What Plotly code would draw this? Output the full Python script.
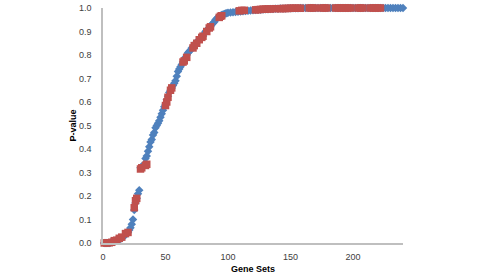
import plotly.graph_objects as go

# Blue diamonds series (gene set index, p-value)
blue_x = list(range(1, 101)) + list(range(102, 241, 2))
blue_y = [
    0.0, 0.0, 0.0, 0.0, 0.0, 0.002, 0.004, 0.006, 0.008, 0.01,
    0.012, 0.014, 0.016, 0.018, 0.02, 0.025, 0.03, 0.035, 0.04, 0.045,
    0.055, 0.065, 0.08, 0.1, 0.14, 0.17, 0.19, 0.21, 0.225, 0.32,
    0.325, 0.33, 0.335, 0.36, 0.37, 0.39, 0.41, 0.43, 0.44, 0.46,
    0.47, 0.49, 0.50, 0.51, 0.52, 0.535, 0.55, 0.565, 0.58, 0.59,
    0.61, 0.625, 0.64, 0.65, 0.66, 0.67, 0.68, 0.69, 0.71, 0.73,
    0.74, 0.75, 0.76, 0.77, 0.78, 0.79, 0.80, 0.81, 0.815, 0.82,
    0.83, 0.835, 0.84, 0.85, 0.855, 0.86, 0.865, 0.87, 0.875, 0.88,
    0.89, 0.90, 0.905, 0.91, 0.915, 0.92, 0.93, 0.935, 0.94, 0.95,
    0.955, 0.96, 0.965, 0.967, 0.97, 0.972, 0.975, 0.977, 0.978, 0.98,
    # 102 .. 240 step 2
    0.981, 0.982, 0.983, 0.984, 0.985, 0.986, 0.987, 0.988, 0.989, 0.99,
    0.991, 0.992, 0.993, 0.994, 0.995, 0.995, 0.996, 0.996, 0.997, 0.997,
    0.998, 0.998, 0.998, 0.999, 0.999, 0.999, 0.999, 0.999, 1.0, 1.0,
    1.0, 1.0, 1.0, 1.0, 1.0, 1.0, 1.0, 1.0, 1.0, 1.0,
    1.0, 1.0, 1.0, 1.0, 1.0, 1.0, 1.0, 1.0, 1.0, 1.0,
    1.0, 1.0, 1.0, 1.0, 1.0, 1.0, 1.0, 1.0, 1.0, 1.0,
    1.0, 1.0, 1.0, 1.0, 1.0, 1.0, 1.0, 1.0, 1.0, 1.0,
]

# Red squares series
red_x = [1, 3, 5, 7, 9, 11, 13, 15, 18, 20,
         25, 26, 27, 30, 31, 34, 35,
         50, 51, 52, 54, 55, 64, 65, 67,
         72, 73, 75, 77, 79, 80, 83, 85, 86, 93, 94, 95,
         109, 111, 113,
         122, 124, 126, 128, 130, 132, 134, 138, 142, 144, 146, 148, 150, 152, 154, 156, 158,
         165, 167, 169, 175, 177, 179,
         186, 188, 190, 192, 194, 196, 198,
         204, 206, 208, 214, 216, 218, 220, 222]
red_y = [0.0, 0.0, 0.001, 0.003, 0.01, 0.012, 0.02, 0.025, 0.04, 0.045,
         0.15, 0.18, 0.19, 0.315, 0.32, 0.33, 0.335,
         0.585, 0.60, 0.62, 0.65, 0.66, 0.77, 0.775, 0.79,
         0.83, 0.84, 0.85, 0.865, 0.875, 0.88, 0.90, 0.915, 0.92, 0.96, 0.965, 0.967,
         0.988, 0.99, 0.99,
         0.992, 0.993, 0.994, 0.995, 0.995, 0.996, 0.996, 0.997, 0.997, 0.998, 0.998, 0.998, 0.999, 0.999, 0.999, 0.999, 0.999,
         1.0, 1.0, 1.0, 1.0, 1.0, 1.0,
         1.0, 1.0, 1.0, 1.0, 1.0, 1.0, 1.0,
         1.0, 1.0, 1.0, 1.0, 1.0, 1.0, 1.0, 1.0]

x_ticks = [0, 50, 100, 150, 200]
y_ticks = [0.0, 0.1, 0.2, 0.3, 0.4, 0.5, 0.6, 0.7, 0.8, 0.9, 1.0]

fig = go.Figure()
fig.add_trace(go.Scatter(x=blue_x, y=blue_y, mode="markers",
                         marker=dict(symbol="diamond", size=6.5, color="#4F81BD",
                                     line=dict(width=0)),
                         cliponaxis=False, showlegend=False))
fig.add_trace(go.Scatter(x=red_x, y=red_y, mode="markers",
                         marker=dict(symbol="square", size=7.5, color="#C0504D",
                                     line=dict(width=0)),
                         cliponaxis=False, showlegend=False))

axis_font = dict(family="Liberation Sans, Arial, sans-serif", size=9, color="#404040")
title_font = dict(family="Liberation Sans, Arial, sans-serif", size=9, color="#000000")

fig.update_layout(
    width=478, height=274,
    margin=dict(l=103, r=75, t=8, b=31),
    paper_bgcolor="white", plot_bgcolor="white",
    xaxis=dict(range=[0, 240], tickvals=x_ticks, ticktext=[str(v) for v in x_ticks],
               showgrid=False, zeroline=False, showline=True, linecolor="#BFBFBF",
               linewidth=1.5, ticks="", tickfont=axis_font, ticklabelstandoff=4,
               automargin=False,
               title=dict(text="<b>Gene Sets</b>", font=title_font, standoff=14)),
    yaxis=dict(range=[0, 1], tickvals=y_ticks, ticktext=[f"{v:.1f}" for v in y_ticks],
               showgrid=False, zeroline=False, showline=True, linecolor="#BFBFBF",
               linewidth=1.5, ticks="", tickfont=axis_font, ticklabelstandoff=8,
               automargin=False,
               title=dict(text="<b>P-value</b>", font=title_font, standoff=1)),
)

fig.write_html("out.html")
